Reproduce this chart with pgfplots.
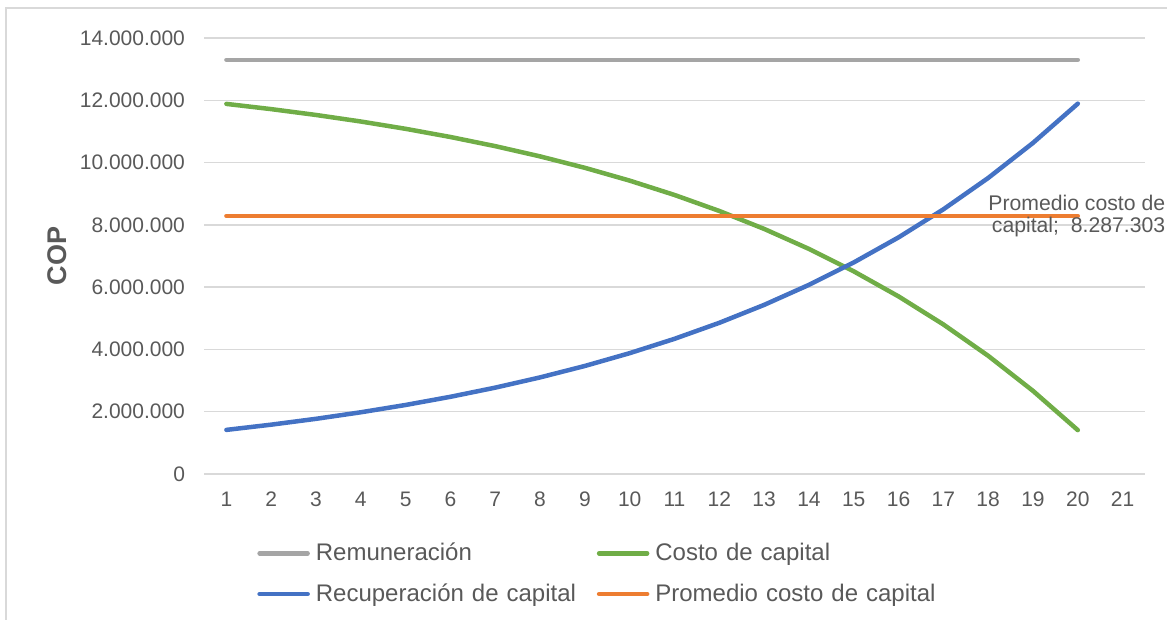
\documentclass[border=0pt]{standalone}
\usepackage{pgfplots}
\pgfplotsset{compat=1.18}
\usepackage{fontspec}
\setmainfont{Liberation Sans}
\definecolor{cgray}{HTML}{A5A5A5}
\definecolor{corange}{HTML}{ED7D31}
\definecolor{cblue}{HTML}{4472C4}
\definecolor{cgreen}{HTML}{70AD47}
\definecolor{ctext}{HTML}{595959}
\definecolor{cgrid}{HTML}{D9D9D9}
\begin{document}
\begin{tikzpicture}
\path[use as bounding box] (0,0) rectangle (583.5pt,310pt);
\draw[cgrid, line width=0.75pt] (3pt,-2pt) -- (3pt,306pt) -- (590pt,306pt);
\begin{axis}[
  at={(102pt,73pt)}, anchor=south west,
  scale only axis, width=470.5pt, height=218pt,
  xmin=0.5, xmax=21.5, ymin=0, ymax=14000000,
  xtick={1,2,3,4,5,6,7,8,9,10,11,12,13,14,15,16,17,18,19,20,21},
  ytick={0,2000000,4000000,6000000,8000000,10000000,12000000,14000000},
  scaled y ticks=false,
  /pgf/number format/assume math mode=true,
  yticklabel style={/pgf/number format/fixed, /pgf/number format/1000 sep={.}, xshift=-6pt},
  tick label style={font=\fontsize{10.5}{12.6}\selectfont, text=ctext},
  xticklabel style={yshift=-5.5pt},
  ymajorgrids, grid style={cgrid, line width=0.75pt},
  axis line style={draw=none}, tick style={draw=none},
  ylabel={COP},
  every axis y label/.style={at={(axis description cs:-0.1562,0.5)}, rotate=90, anchor=center, font=\fontsize{13.5}{16}\selectfont\bfseries, text=ctext},
  legend columns=2,
  legend cell align=left,
  legend style={draw=none, fill=none, at={(axis description cs:0.0563,-0.148)}, anchor=north west, inner sep=0pt,
    font=\fontsize{12}{14}\selectfont, text=ctext, row sep=6pt,
    nodes={text width=137.5pt, inner xsep=3pt}},
  legend image code/.code={\draw[#1, line cap=round] (1pt,0pt) -- (25pt,0pt);},
  every axis plot/.append style={line width=2.25pt, line cap=round, line join=round},
  clip=false,
]
\addplot[cgray, mark=none] coordinates {
(1,13300000) (2,13300000) (3,13300000) (4,13300000) (5,13300000) (6,13300000) (7,13300000) (8,13300000) (9,13300000) (10,13300000)
(11,13300000) (12,13300000) (13,13300000) (14,13300000) (15,13300000) (16,13300000) (17,13300000) (18,13300000) (19,13300000) (20,13300000)};
\addlegendentry{\mbox{Remuneración}}
\addplot[cgreen, mark=none] coordinates {
(1,11883776) (2,11715957) (3,11528254) (4,11318300) (5,11083475) (6,10820813) (7,10527030) (8,10198440) (9,9830908) (10,9419818)
(11,8960010) (12,8445713) (13,7870488) (14,7227087) (15,6507437) (16,5702521) (17,4802204) (18,3795208) (19,2668884) (20,1409082)};
\addlegendentry{\mbox{Costo de capital}}
\addplot[cblue, mark=none] coordinates {
(1,1416224) (2,1584043) (3,1771746) (4,1981700) (5,2216525) (6,2479187) (7,2772970) (8,3101560) (9,3469092) (10,3880182)
(11,4339990) (12,4854287) (13,5429512) (14,6072913) (15,6792563) (16,7597479) (17,8497796) (18,9504792) (19,10631116) (20,11890918)};
\addlegendentry{\mbox{Recuperación de capital}}
\addplot[corange, mark=none] coordinates {
(1,8287303) (2,8287303) (3,8287303) (4,8287303) (5,8287303) (6,8287303) (7,8287303) (8,8287303) (9,8287303) (10,8287303)
(11,8287303) (12,8287303) (13,8287303) (14,8287303) (15,8287303) (16,8287303) (17,8287303) (18,8287303) (19,8287303) (20,8287303)}
  node[pos=1, anchor=center, align=right, font=\fontsize{10.6}{11.2}\selectfont, text=ctext, xshift=-0.5pt] {Promedio costo de\\capital;~ 8.287.303};
\addlegendentry{\mbox{Promedio costo de capital}}
\end{axis}
\end{tikzpicture}
\end{document}
